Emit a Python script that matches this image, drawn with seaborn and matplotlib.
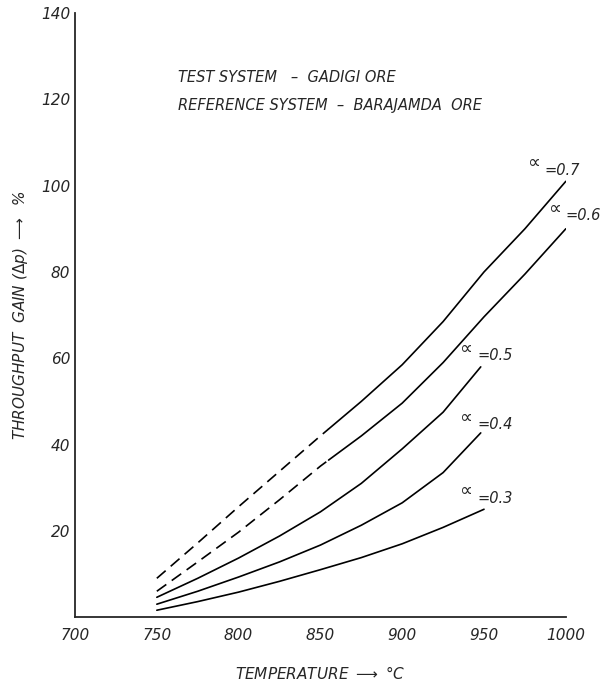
import numpy as np
import pandas as pd
import matplotlib
matplotlib.use("Agg")
import matplotlib.pyplot as plt
import seaborn as sns

sns.set_style("white")
plt.rcParams['font.family'] = ['DejaVu Sans']

# curves: temperature (deg C) -> throughput gain (%)
temp_full = [750, 775, 800, 825, 850, 875, 900, 925, 950, 975, 1000]
gain_07 = [9, 17.2, 25.6, 33.8, 42, 50, 58.5, 68.5, 80, 90, 101]
gain_06 = [6, 12.8, 19.7, 27.2, 35, 42, 49.6, 59, 69.6, 79.5, 90]
# dashed parts of 0.7 and 0.6 run from 750 to about 855
dash_end = 855

temp_short = [750, 775, 800, 825, 850, 875, 900, 925, 948]
gain_05 = [4.6, 9, 13.7, 18.8, 24.4, 31, 39, 47.5, 58]
gain_04 = [3, 6, 9.3, 12.8, 16.7, 21.3, 26.5, 33.5, 42.7]
temp_03 = [750, 775, 800, 825, 850, 875, 900, 925, 950]
gain_03 = [1.6, 3.6, 5.8, 8.3, 11, 13.8, 17, 20.8, 25]

x_ticks = [700, 750, 800, 850, 900, 950, 1000]
y_ticks = [20, 40, 60, 80, 100, 120, 140]

fig = plt.figure(figsize=(6.15, 6.88), dpi=100)
ax = fig.add_axes([0.122, 0.103, 0.798, 0.878])

def draw(t, g, ls):
    df = pd.DataFrame({"t": t, "g": g})
    sns.lineplot(data=df, x="t", y="g", ax=ax, color="black", lw=1.2,
                 linestyle=ls, sort=True)

for g in (gain_07, gain_06):
    t = np.array(temp_full, float)
    v = np.array(g, float)
    mid = np.interp(dash_end, t, v)
    lo = t < dash_end
    draw(list(t[lo]) + [dash_end], list(v[lo]) + [mid], (0, (7, 4)))
    draw([dash_end] + list(t[~lo]), [mid] + list(v[~lo]), "-")
draw(temp_short, gain_05, "-")
draw(temp_short, gain_04, "-")
draw(temp_03, gain_03, "-")

ax.set_xlim(700, 1000)
ax.set_ylim(0, 140)
sns.despine(ax=ax, top=True, right=True)
ax.spines['left'].set_linewidth(1.3)
ax.spines['bottom'].set_linewidth(1.3)
ax.set_xticks(x_ticks)
ax.set_yticks(y_ticks)
ax.tick_params(axis='both', direction='in', length=10, width=1.3,
               labelsize=11)
ax.tick_params(axis='x', pad=8)
for lab in ax.get_xticklabels() + ax.get_yticklabels():
    lab.set_fontstyle('italic')
ax.set_xlabel("TEMPERATURE $\\longrightarrow$ °C", fontsize=11,
              style='italic', labelpad=16)
ax.set_ylabel("THROUGHPUT  GAIN ($\\Delta p$) $\\longrightarrow$  %",
              fontsize=11, style='italic', labelpad=8)

ax.text(763, 125, "TEST SYSTEM   –  GADIGI ORE", fontsize=10.5,
        style='italic', ha='left', va='center')
ax.text(763, 118.5, "REFERENCE SYSTEM  –  BARAJAMDA  ORE",
        fontsize=10.5, style='italic', ha='left', va='center')

labels = [(976, 104, "0.7"), (989, 93.5, "0.6"),
          (935, 61, "0.5"), (935, 45, "0.4"), (935, 28, "0.3")]
for x, y, s in labels:
    ax.text(x, y, "∝", fontsize=13, ha='left')
    ax.text(x + 11, y - 1.5, "=" + s, fontsize=10.5, style='italic', ha='left')

fig.savefig("out.png", dpi=100)
